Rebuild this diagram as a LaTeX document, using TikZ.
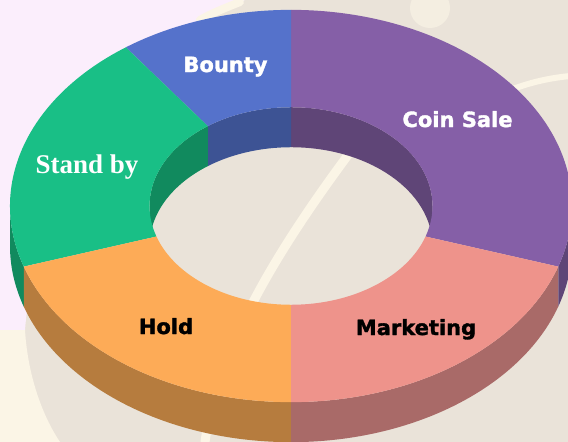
\documentclass[tikz,border=0pt]{standalone}
\usepackage{fontspec}
\usepackage{xcolor}
\usepackage{tikz}
\newfontfamily\labelfont[FakeBold=1.6]{DejaVu Sans Bold}
\newfontfamily\standfont{Liberation Serif Bold}

\definecolor{backbeige}{HTML}{EAE3D9}
\definecolor{backlav}{HTML}{FBEEFC}
\definecolor{backcream}{HTML}{FBF5E6}
\definecolor{bountytop}{HTML}{5572CB}
\definecolor{bountywall}{HTML}{3D5394}
\definecolor{cointop}{HTML}{855FA7}
\definecolor{coinwall}{HTML}{5F4577}
\definecolor{standtop}{HTML}{19BF86}
\definecolor{standwall}{HTML}{118A5E}
\definecolor{holdtop}{HTML}{FDAB57}
\definecolor{holdside}{HTML}{B67C3E}
\definecolor{markettop}{HTML}{EE938B}
\definecolor{marketside}{HTML}{A96A68}

\tikzset{
  whitelab/.style={text=white, anchor=base, inner sep=0pt, font=\labelfont\fontsize{21}{25}\selectfont},
  blacklab/.style={text=black, anchor=base, inner sep=0pt, font=\labelfont\fontsize{21}{25}\selectfont},
  seriflab/.style={text=white, anchor=base, inner sep=0pt, font=\standfont\fontsize{27}{31}\selectfont},
  streak/.style={backcream, line width=9pt, line cap=round},
  ring/.style={shift={(291pt,-206pt)}, yscale=0.698}
}

\begin{document}
\begin{tikzpicture}
\useasboundingbox (0pt,0pt) rectangle (568pt,-442pt);
\clip (0pt,0pt) rectangle (568pt,-442pt);
\fill[backbeige] (0pt,0pt) rectangle (568pt,-442pt);
\fill[backlav] (0pt,0pt) -- (245pt,0pt) .. controls (120pt,-60pt) and (35pt,-200pt) .. (25pt,-330pt) -- (0pt,-330pt) -- cycle;
\fill[backcream] (0pt,-330pt) -- (25pt,-330pt) .. controls (28pt,-380pt) and (45pt,-420pt) .. (60pt,-442pt) -- (0pt,-442pt) -- cycle;
\draw[streak] (205pt,-442pt) .. controls (220pt,-330pt) and (300pt,-210pt) .. (430pt,-50pt);
\draw[streak, line width=6pt] (505pt,-92pt) .. controls (530pt,-82pt) and (550pt,-78pt) .. (570pt,-76pt);
\draw[streak, line width=8pt] (240pt,-2pt) .. controls (225pt,-8pt) and (210pt,-14pt) .. (200pt,-20pt);
\fill[backcream!60!backbeige] (430pt,-8pt) circle (20pt);

\begin{scope}[ring]
\fill[standwall] (180:281pt) arc[start angle=180, end angle=198, radius=281pt] -- ++(0,-57.3pt) arc[start angle=198, end angle=180, radius=281pt] -- cycle;
\fill[holdside] (198:281pt) arc[start angle=198, end angle=270, radius=281pt] -- ++(0,-57.3pt) arc[start angle=270, end angle=198, radius=281pt] -- cycle;
\fill[marketside] (270:281pt) arc[start angle=270, end angle=342, radius=281pt] -- ++(0,-57.3pt) arc[start angle=342, end angle=270, radius=281pt] -- cycle;
\fill[coinwall] (342:281pt) arc[start angle=342, end angle=365, radius=281pt] -- ++(0,-57.3pt) arc[start angle=365, end angle=342, radius=281pt] -- cycle;

\fill[coinwall] (0:141.5pt) arc[start angle=0, end angle=90, radius=141.5pt] -- ++(0,-57.3pt) arc[start angle=90, end angle=0, radius=141.5pt] -- cycle;
\fill[bountywall] (90:141.5pt) arc[start angle=90, end angle=126, radius=141.5pt] -- ++(0,-57.3pt) arc[start angle=126, end angle=90, radius=141.5pt] -- cycle;
\fill[standwall] (126:141.5pt) arc[start angle=126, end angle=180, radius=141.5pt] -- ++(0,-57.3pt) arc[start angle=180, end angle=126, radius=141.5pt] -- cycle;

\fill[cointop] (-18:281pt) arc[start angle=-18, end angle=90, radius=281pt] -- (90:141.5pt) arc[start angle=90, end angle=-18, radius=141.5pt] -- cycle;
\fill[bountytop] (90:281pt) arc[start angle=90, end angle=126, radius=281pt] -- (126:141.5pt) arc[start angle=126, end angle=90, radius=141.5pt] -- cycle;
\fill[standtop] (126:281pt) arc[start angle=126, end angle=198, radius=281pt] -- (198:141.5pt) arc[start angle=198, end angle=126, radius=141.5pt] -- cycle;
\fill[holdtop] (198:281pt) arc[start angle=198, end angle=270, radius=281pt] -- (270:141.5pt) arc[start angle=270, end angle=198, radius=141.5pt] -- cycle;
\fill[markettop] (270:281pt) arc[start angle=270, end angle=342, radius=281pt] -- (342:141.5pt) arc[start angle=342, end angle=270, radius=141.5pt] -- cycle;
\end{scope}

\node[whitelab] (bounty) at (225.5pt,-72pt) {Bounty};
\node[whitelab] (coinsale) at (457.5pt,-127pt) {Coin Sale};
\node[seriflab] (standby) at (87pt,-173pt) {Stand by};
\node[blacklab] (hold) at (166pt,-334pt) {Hold};
\node[blacklab] (marketing) at (416pt,-335pt) {Marketing};
\end{tikzpicture}
\end{document}
